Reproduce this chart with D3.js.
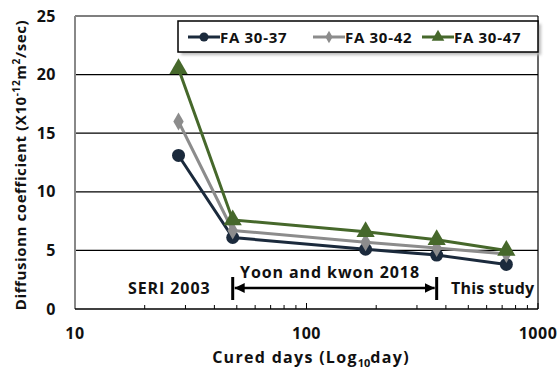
<!DOCTYPE html>
<html>
<head>
<meta charset="utf-8">
<script src="https://cdn.jsdelivr.net/npm/d3@7"></script>
<style>
  body { margin: 0; background: #fff; }
  text { font-family: "Open Sans", "Noto Sans", sans-serif; font-weight: bold; fill: #111; }
</style>
</head>
<body>
<div id="chart"></div>
<script>
(() => {

  // cured days (log scale)
  let days = [28, 48, 180, 365, 730]
  let series_names = ["FA 30-37", "FA 30-42", "FA 30-47"]
  let fa_30_37 = [13.1, 6.1, 5.1, 4.6, 3.8]
  let fa_30_42 = [16.0, 6.7, 5.7, 5.2, 4.7]
  let fa_30_47 = [20.5, 7.6, 6.6, 5.9, 5.0]
  let y_ticks = [0, 5, 10, 15, 20, 25]
  let x_ticks = [10, 100, 1000]

  let colors = ["#1b2a3c", "#8c8c8c", "#46682b"]
  let values = [fa_30_37, fa_30_42, fa_30_47]

  let svg = d3.select("#chart")
  .append("svg")
  .attr("width", 559)
  .attr("height", 370)

  let margin = {top: 16, right: 21, bottom: 61, left: 75}
  let width = 559 - margin.left - margin.right
  let height = 370 - margin.top - margin.bottom

  let g = svg.append("g")
  .attr("transform", "translate(" + margin.left + "," + margin.top + ")")

  let x = d3.scaleLog()
  .domain([10, 1000])
  .range([0, width])

  let y = d3.scaleLinear()
  .domain([0, 25])
  .range([height, 0])

  // gridlines
  g.selectAll(".grid")
  .data(y_ticks.filter(d => d > 0))
  .enter()
  .append("line")
  .attr("x1", 0)
  .attr("x2", width)
  .attr("y1", d => y(d))
  .attr("y2", d => y(d))
  .attr("stroke", "#000")
  .attr("stroke-width", 1.2)

  // right border
  g.append("line")
  .attr("x1", width).attr("x2", width)
  .attr("y1", 0).attr("y2", height)
  .attr("stroke", "#000")
  .attr("stroke-width", 1.2)

  // left axis line
  g.append("line")
  .attr("x1", 0).attr("x2", 0)
  .attr("y1", 0).attr("y2", height)
  .attr("stroke", "#888")
  .attr("stroke-width", 2)

  // minor ticks inside
  let minor = []
  ;[10, 100].forEach(b => { for (let i = 2; i <= 10; i++) minor.push(b * i) })
  g.selectAll(".minor")
  .data(minor)
  .enter()
  .append("line")
  .attr("x1", d => x(d))
  .attr("x2", d => x(d))
  .attr("y1", height)
  .attr("y2", d => (d == 100 || d == 1000) ? height - 6 : height - 4)
  .attr("stroke", "#000")
  .attr("stroke-width", 1)

  // bottom axis line
  g.append("line")
  .attr("x1", 0).attr("x2", width)
  .attr("y1", height).attr("y2", height)
  .attr("stroke", "#000")
  .attr("stroke-width", 1.5)

  // y tick labels
  g.selectAll(".ylab")
  .data(y_ticks)
  .enter()
  .append("text")
  .attr("x", -19)
  .attr("y", d => y(d) + 5.5)
  .attr("text-anchor", "end")
  .style("font-size", "16px")
  .style("letter-spacing", "0.5px")
  .text(d => d)

  // x tick labels
  g.selectAll(".xlab")
  .data(x_ticks)
  .enter()
  .append("text")
  .attr("x", d => x(d))
  .attr("y", height + 30)
  .attr("text-anchor", "middle")
  .style("font-size", "16px")
  .style("letter-spacing", "0.5px")
  .text(d => d)

  // axis titles
  let xt = svg.append("text")
  .attr("x", 311)
  .attr("y", 363)
  .attr("text-anchor", "middle")
  .style("font-size", "16px")
  .style("letter-spacing", "1.3px")
  xt.append("tspan").text("Cured days (Log")
  xt.append("tspan").attr("dy", 4).style("font-size", "11px").style("letter-spacing", "0px").text("10")
  xt.append("tspan").attr("dy", -4).text("day)")

  let yt = svg.append("text")
  .attr("transform", "translate(26,165) rotate(-90)")
  .attr("text-anchor", "middle")
  .style("font-size", "15px")
  .style("letter-spacing", "0.6px")
  yt.append("tspan").text("Diffusionn coefficient (X10")
  yt.append("tspan").attr("dy", -6).style("font-size", "10px").text("-12")
  yt.append("tspan").attr("dy", 6).text("m")
  yt.append("tspan").attr("dy", -6).style("font-size", "10px").text("2")
  yt.append("tspan").attr("dy", 6).text("/sec)")

  // annotations
  let ax1 = x(48), ax2 = x(365), ay = 288 - margin.top
  svg.append("defs").html(
    '<marker id="ah" viewBox="0 0 10 10" refX="10" refY="5" markerWidth="4" markerHeight="4" orient="auto-start-reverse">' +
    '<path d="M0,0 L10,5 L0,10 z" fill="#000"/></marker>')
  g.append("line")
  .attr("x1", ax1 + 2).attr("x2", ax2 - 2)
  .attr("y1", ay).attr("y2", ay)
  .attr("stroke", "#000")
  .attr("stroke-width", 2.5)
  .attr("marker-start", "url(#ah)")
  .attr("marker-end", "url(#ah)")
  ;[ax1, ax2].forEach(xx => {
    g.append("line")
    .attr("x1", xx).attr("x2", xx)
    .attr("y1", ay - 11).attr("y2", ay + 12)
    .attr("stroke", "#000")
    .attr("stroke-width", 3)
  })
  g.append("text").attr("x", 128 - margin.left).attr("y", 294 - margin.top)
  .style("font-size", "16px").style("letter-spacing", "0.9px").text("SERI 2003")
  g.append("text").attr("x", 330 - margin.left).attr("y", 278 - margin.top)
  .attr("text-anchor", "middle")
  .style("font-size", "16px").style("letter-spacing", "0.9px").text("Yoon and kwon 2018")
  g.append("text").attr("x", 451 - margin.left).attr("y", 294 - margin.top)
  .style("font-size", "16px").style("letter-spacing", "0.2px").text("This study")

  // series
  let line = d3.line()
  .x((d, i) => x(days[i]))
  .y(d => y(d))

  function marker(sel, k, size) {
    if (k == 0) {
      sel.append("circle").attr("r", size).attr("fill", colors[k])
    } else if (k == 1) {
      sel.append("path").attr("d", d3.symbol(d3.symbolDiamond, size * size * 2.2)()).attr("fill", colors[k])
    } else {
      sel.append("path").attr("d", d3.symbol(d3.symbolTriangle, size * size * 3.4)()).attr("fill", colors[k])
    }
  }

  values.forEach((vals, k) => {
    g.append("path")
    .datum(vals)
    .attr("d", line)
    .attr("fill", "none")
    .attr("stroke", colors[k])
    .attr("stroke-width", 3)

    vals.forEach((v, i) => {
      let m = g.append("g")
      .attr("transform", "translate(" + x(days[i]) + "," + y(v) + ")")
      marker(m, k, 6.5)
    })
  })

  // legend
  let lg = svg.append("g").attr("transform", "translate(178,21)")
  lg.append("rect")
  .attr("x", 3).attr("y", 3)
  .attr("width", 360).attr("height", 31)
  .attr("fill", "#bbb")
  .style("filter", "blur(1.5px)")
  lg.append("rect")
  .attr("width", 360).attr("height", 31)
  .attr("fill", "#fff")
  .attr("stroke", "#000")
  .attr("stroke-width", 1.5)

  let lx = [10, 135, 244]
  series_names.forEach((name, k) => {
    let it = lg.append("g").attr("transform", "translate(" + lx[k] + ",16)")
    it.append("line")
    .attr("x1", 0).attr("x2", 32)
    .attr("stroke", colors[k])
    .attr("stroke-width", 3)
    let m = it.append("g").attr("transform", "translate(16,0)")
    marker(m, k, 4.5)
    it.append("text")
    .attr("x", 32)
    .attr("y", 5.5)
    .style("font-size", "15px")
    .style("letter-spacing", "0.7px")
    .text(name)
  })

})()
</script>
</body>
</html>
